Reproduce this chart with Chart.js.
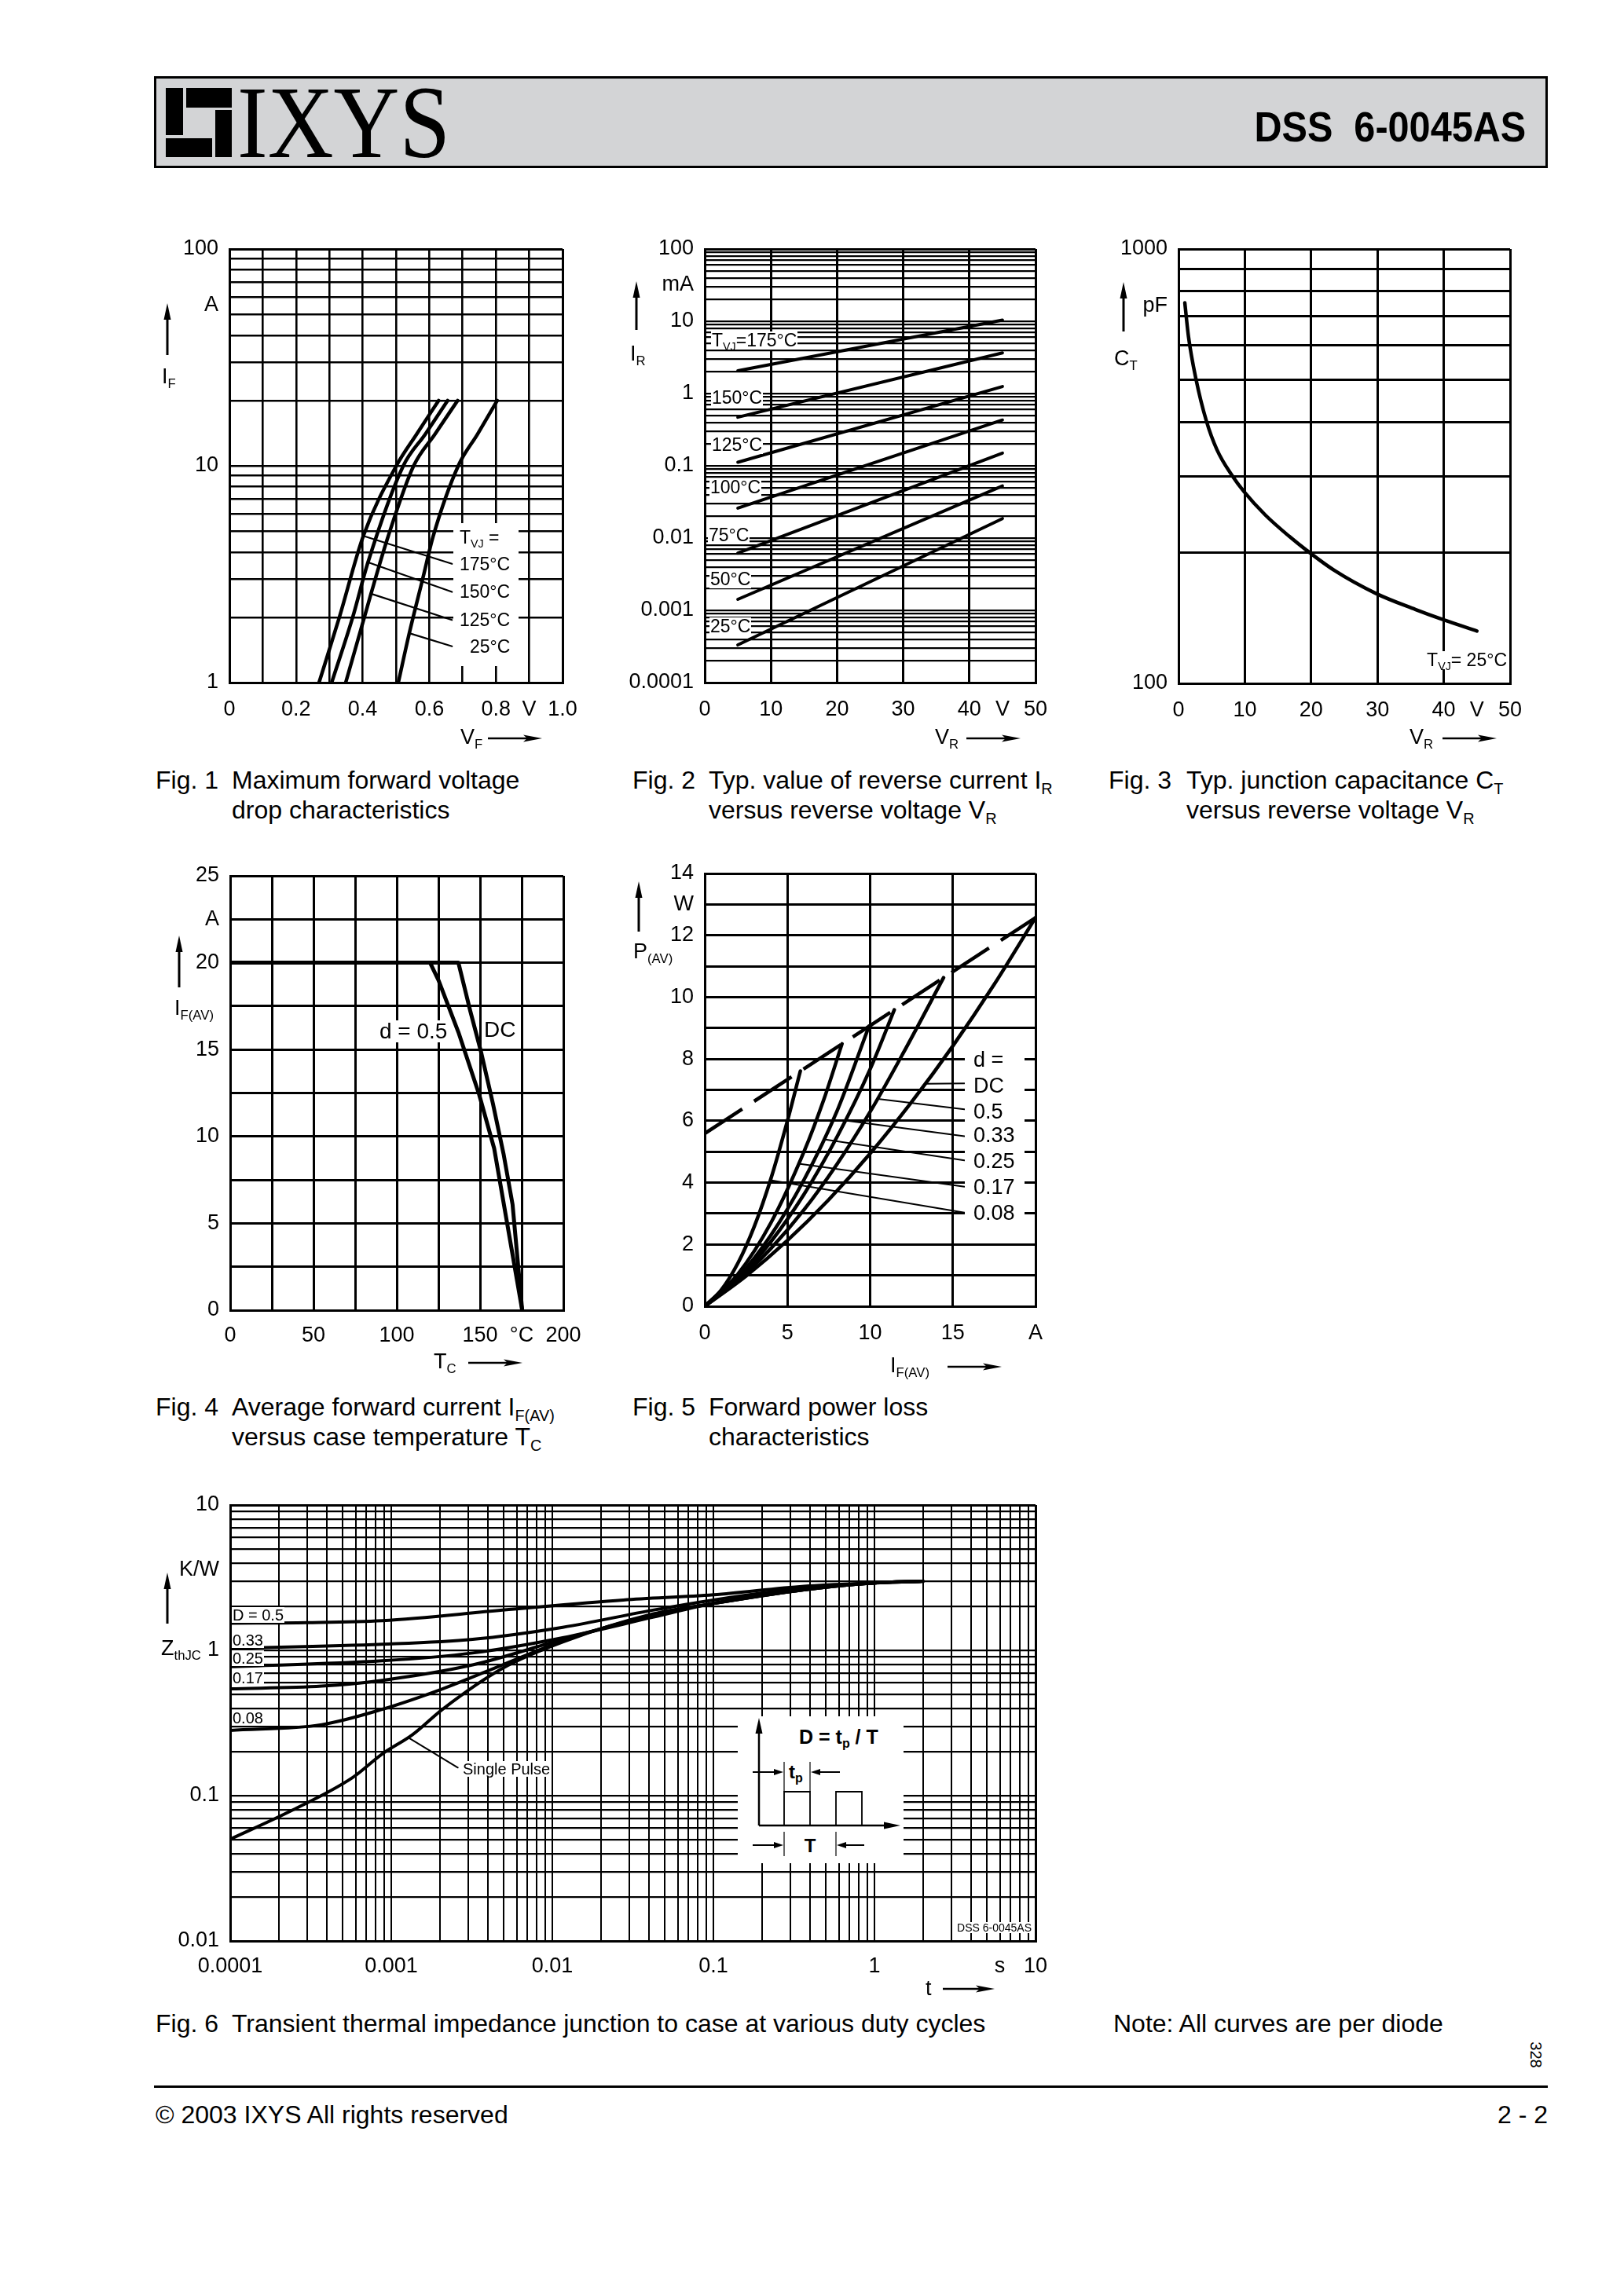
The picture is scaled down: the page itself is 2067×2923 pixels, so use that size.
<!DOCTYPE html>
<html lang="en">
<head>
<meta charset="utf-8">
<title>DSS 6-0045AS characteristic curves</title>
<script src="https://cdn.jsdelivr.net/npm/chart.js@4.4.1/dist/chart.umd.min.js"></script>
<style>
  html, body { margin: 0; padding: 0; background: #fff; }
  body { position: relative; width: 2067px; height: 2923px; overflow: hidden;
         font-family: "Liberation Sans", Arial, Helvetica, sans-serif; color: #000; }
  canvas { position: absolute; }
  .t { position: absolute; white-space: nowrap; line-height: 1; }
  .t sub { font-size: 62%; vertical-align: -0.35em; line-height: 0; }
  .w { background: #fff; padding: 0 1px; }
  .blk { position: absolute; background: #000; }
  .box { position: absolute; background: #fff; }
  svg.dec { position: absolute; overflow: visible; }
  #head { position: absolute; left: 196px; top: 97px; width: 1774px; height: 117px;
          box-sizing: border-box; border: 3px solid #000; background: #d3d4d6; }
  #ixys { left: 302px; top: 90px; font-family: "Liberation Serif", "Times New Roman", serif;
          font-size: 132px; transform: scaleX(0.88); transform-origin: left top; }
  #part { right: 125px; top: 134px; font-size: 54px; font-weight: bold;
          transform: scaleX(0.9); transform-origin: right top; }
  #foot { position: absolute; left: 196px; top: 2655px; width: 1774px; height: 3px; background: #000; }
  #num { left: 1938px; top: 2606px; font-size: 20px; transform: rotate(90deg); transform-origin: center; }
</style>
</head>
<body>
<div id="head"></div>
<div class="blk" style="left:211px;top:112px;width:22px;height:60px"></div>
<div class="blk" style="left:237px;top:112px;width:58px;height:25px"></div>
<div class="blk" style="left:274px;top:140px;width:21px;height:60px"></div>
<div class="blk" style="left:211px;top:176px;width:59px;height:24px"></div>
<div class="t" id="ixys">IXYS</div>
<div class="t" id="part">DSS&nbsp; 6-0045AS</div>
<div id="foot"></div>
<div class="t" id="num">328</div>

<script>
// ---------------- Fig. 1  forward current I_F (A) vs forward voltage V_F (V) ----------------
const f1VF175 = [0.269, 0.330, 0.402, 0.501, 0.562, 0.628];
const f1IF175 = [1, 2, 4.75, 10, 14, 20];
const f1VF150 = [0.307, 0.370, 0.416, 0.522, 0.588, 0.655];
const f1IF150 = [1, 2, 3.59, 10, 14, 20];
const f1VF125 = [0.349, 0.405, 0.425, 0.477, 0.553, 0.617, 0.685];
const f1IF125 = [1, 2, 2.57, 4.75, 10, 14, 20];
const f1VF25 = [0.507, 0.540, 0.580, 0.612, 0.687, 0.745, 0.804];
const f1IF25 = [1, 1.69, 3, 4.75, 10, 14, 20];
const f1LeadVF = [[0.402, 0.668], [0.4155, 0.668], [0.425, 0.668], [0.540, 0.668]];
const f1LeadIF = [[4.75, 3.53], [3.59, 2.62], [2.57, 1.945], [1.69, 1.47]];
const f1XTicks = [0, 0.1, 0.2, 0.3, 0.4, 0.5, 0.6, 0.7, 0.8, 0.9, 1.0];
const f1XText = ['0', '', '0.2', '', '0.4', '', '0.6', '', '0.8', 'V', '1.0'];
const f1YLabels = [1, 10, 100];

// ---------------- Fig. 2  reverse current I_R (mA) vs V_R (V) ----------------
const f2VR = [5, 45];
const f2IR175 = [2.07, 10.4];
const f2IR150 = [0.47, 3.65];
const f2IR125 = [0.112, 1.25];
const f2IR100 = [0.026, 0.43];
const f2IR75 = [0.0062, 0.15];
const f2IR50 = [0.00142, 0.0526];
const f2IR25 = [0.000332, 0.0186];
const f2XTicks = [0, 10, 20, 30, 40, 45, 50];
const f2XText = ['0', '10', '20', '30', '40', 'V', '50'];
const f2YLabels = [0.0001, 0.001, 0.01, 0.1, 1, 10, 100];

// ---------------- Fig. 3  junction capacitance C_T (pF) vs V_R (V) ----------------
const f3VR = [0.95, 1.5, 2.63, 4.2, 5.8, 8.07, 9.9, 13.1, 16.7, 19.4, 23.5, 29.8, 35.7, 40.0, 45.0];
const f3CT = [752, 629, 502, 402, 345, 301, 276, 244, 218, 202, 182, 161, 148, 140, 132];
const f3YLabels = [100, 1000];

// ---------------- Fig. 4  I_F(AV) (A) vs case temperature T_C (°C) ----------------
const f4Tc05 = [0, 120, 125, 137, 149.5, 158.5, 175.3];
const f4If05 = [20, 20, 19, 16, 12.4, 9.3, 0];
const f4TcDC = [0, 137, 144.2, 150.5, 157.7, 164.1, 169.5, 175.3];
const f4IfDC = [20, 20, 17.2, 14.9, 11.9, 9.0, 6.1, 0];
const f4XTicks = [0, 25, 50, 75, 100, 125, 150, 175, 200];
const f4XText = ['0', '', '50', '', '100', '', '150', '°C', '200'];
const f4YTicks = [0, 2.5, 5, 7.5, 10, 12.5, 15, 17.5, 20, 22.5, 25];
const f4YText = ['0', '', '5', '', '10', '', '15', '', '20', 'A', '25'];

// ---------------- Fig. 5  power loss P_(AV) (W) vs I_F(AV) (A) ----------------
const f5I_DC = [0, 2.5, 5, 7.5, 10, 12.5, 15, 17.5, 20];
const f5P_DC = [0, 0.98, 2.13, 3.45, 4.94, 6.60, 8.42, 10.41, 12.57];
const f5I_05 = [0, 2, 4, 6, 8, 10, 12, 14.44];
const f5P_05 = [0, 0.83, 1.87, 3.12, 4.60, 6.29, 8.19, 10.63];
const f5I_033 = [0, 2, 4, 6, 8, 10, 11.46];
const f5P_033 = [0, 0.88, 2.09, 3.62, 5.48, 7.67, 9.59];
const f5I_025 = [0, 2, 4, 6, 8, 9.93];
const f5P_025 = [0, 0.93, 2.30, 4.09, 6.32, 9.06];
const f5I_017 = [0, 2, 4, 6, 7.2, 8.3];
const f5P_017 = [0, 1.04, 2.70, 5.0, 6.69, 8.49];
const f5I_008 = [0, 1, 2, 3, 4, 5, 5.78];
const f5P_008 = [0, 0.53, 1.39, 2.59, 4.13, 6.0, 7.61];
const f5LimI = [0, 20];
const f5LimP = [5.59, 12.57];
const f5LeadI = [[13.36, 15.7], [10.47, 15.7], [8.6, 15.7], [7.22, 15.7], [5.69, 15.7], [3.97, 15.7]];
const f5LeadP = [[7.2, 7.21], [6.71, 6.37], [6.0, 5.50], [5.4, 4.72], [4.61, 3.87], [4.08, 3.03]];
const f5XTicks = [0, 5, 10, 15, 20];
const f5XText = ['0', '5', '10', '15', 'A'];
const f5YTicks = [0, 1, 2, 3, 4, 5, 6, 7, 8, 9, 10, 11, 12, 13, 14];
const f5YText = ['0', '', '2', '', '4', '', '6', '', '8', '', '10', '', '12', 'W', '14'];

// ---------------- Fig. 6  Z_thJC (K/W) vs pulse time t (s) ----------------
const f6T05 = [1e-4, 3e-4, 8.8e-4, 4.9e-3, 0.0276, 0.1, 0.364, 1, 2];
const f6Z05 = [1.537, 1.55, 1.60, 1.89, 2.22, 2.41, 2.76, 2.91, 2.99];
const f6T033 = [1e-4, 8.8e-4, 3.2e-3, 0.0116, 0.042, 0.1, 0.364, 1, 2];
const f6Z033 = [1.029, 1.10, 1.19, 1.44, 1.89, 2.22, 2.68, 2.91, 2.99];
const f6T025 = [1e-4, 8.8e-4, 3.2e-3, 0.0116, 0.042, 0.1, 0.364, 1, 2];
const f6Z025 = [0.772, 0.847, 0.959, 1.22, 1.69, 2.11, 2.64, 2.91, 2.99];
const f6T017 = [1e-4, 3.7e-4, 8.8e-4, 3.2e-3, 0.0116, 0.042, 0.1, 0.364, 1, 2];
const f6Z017 = [0.543, 0.567, 0.622, 0.794, 1.19, 1.74, 2.10, 2.61, 2.91, 2.99];
const f6T008 = [1e-4, 3.7e-4, 8.8e-4, 2.08e-3, 4.9e-3, 0.0116, 0.042, 0.1, 0.364, 1, 2];
const f6Z008 = [0.281, 0.308, 0.393, 0.543, 0.794, 1.16, 1.76, 2.10, 2.61, 2.91, 2.99];
const f6TSP = [1e-4, 2.43e-4, 5.74e-4, 8.8e-4, 1.35e-3, 2.08e-3, 4.9e-3, 0.0116, 0.042, 0.1, 0.364, 1, 2];
const f6ZSP = [0.0501, 0.0794, 0.133, 0.194, 0.262, 0.393, 0.751, 1.14, 1.78, 2.10, 2.61, 2.91, 2.99];
const f6LeadT = [0.0013, 0.00259];
const f6LeadZ = [0.248, 0.156];
const f6XLabels = [0.0001, 0.001, 0.01, 0.1, 1, 10];
const f6YLabels = [0.01, 0.1, 1, 10];

// ---------------- layout helpers ----------------
Chart.defaults.font.family = '"Liberation Sans", Arial, Helvetica, sans-serif';
Chart.defaults.font.size = 27;
Chart.defaults.color = '#000';

const AXW = 130, AXH = 70, PADT = 30, PADR = 50;

function linSpec(ticks, text, hide, lw) {
  return { type: 'linear', min: ticks[0], max: ticks[ticks.length - 1], ticks, text, hide: hide || [], lw };
}

// log axis: grid at 1..9 per decade, labels on the listed values, optional unit text
function logSpec(lo, hi, labelled, unitVal, unitText, lw) {
  let ticks = [];
  for (let e = lo; e < hi; e++) {
    for (let m = 1; m < 10; m++) ticks.push(+(m * Math.pow(10, e)).toPrecision(3));
  }
  ticks.push(+Math.pow(10, hi).toPrecision(3));
  const hide = [];
  if (unitVal !== undefined && !ticks.includes(unitVal)) {
    ticks.push(unitVal);
    hide.push(unitVal);
  }
  ticks.sort((a, b) => a - b);
  const text = ticks.map(v => v === unitVal ? unitText : (labelled.includes(v) ? String(v) : ''));
  return { type: 'logarithmic', min: ticks[0], max: ticks[ticks.length - 1], ticks, text, hide, lw };
}

function scaleCfg(s, horiz, pad) {
  return {
    type: s.type, min: s.min, max: s.max,
    afterBuildTicks: sc => { sc.ticks = s.ticks.map(v => ({ value: v })); },
    afterFit: sc => {
      if (horiz) { sc.height = AXH; sc.paddingLeft = 0; sc.paddingRight = 0; }
      else { sc.width = AXW; sc.paddingTop = 0; sc.paddingBottom = 0; }
    },
    ticks: {
      autoSkip: false, maxRotation: 0, minRotation: 0, padding: pad,
      callback: (v, i) => s.text[i]
    },
    grid: {
      drawTicks: false,
      color: c => s.hide.includes(s.ticks[c.index]) ? 'rgba(0,0,0,0)' : '#000',
      lineWidth: c => (c.index === 0 || c.index === s.ticks.length - 1) ? 3 : s.lw
    },
    border: { display: true, width: 3, color: '#000' }
  };
}

function line(xs, ys, w, extra) {
  return Object.assign({
    data: xs.map((x, i) => ({ x: x, y: ys[i] })),
    borderColor: '#000', borderWidth: w, pointRadius: 0, fill: false,
    cubicInterpolationMode: 'monotone', borderCapStyle: 'round', borderJoinStyle: 'round'
  }, extra || {});
}
const straight = { cubicInterpolationMode: 'default', tension: 0 };

function leaders(xPairs, yPairs, w) {
  return xPairs.map((xp, i) => line(xp, yPairs[i], w, straight));
}

function makeChart(rect, xs, ys, datasets, xPad, yPad) {
  const L = rect[0], T = rect[1], R = rect[2], B = rect[3];
  const cv = document.createElement('canvas');
  cv.width = R - L + AXW + PADR;
  cv.height = B - T + PADT + AXH;
  cv.style.left = (L - AXW) + 'px';
  cv.style.top = (T - PADT) + 'px';
  document.body.appendChild(cv);
  return new Chart(cv.getContext('2d'), {
    type: 'line',
    data: { datasets },
    options: {
      responsive: false, animation: false, devicePixelRatio: 1,
      layout: { padding: { left: 0, top: PADT, right: PADR, bottom: 0 } },
      plugins: { legend: { display: false }, tooltip: { enabled: false } },
      scales: { x: scaleCfg(xs, true, xPad), y: scaleCfg(ys, false, yPad) }
    }
  });
}

// ---------------- the six charts ----------------
makeChart([292, 317, 716, 869],
  linSpec(f1XTicks, f1XText, [], 2.6),
  logSpec(0, 2, f1YLabels, 55, 'A', 2.6),
  [line(f1VF175, f1IF175, 4.5), line(f1VF150, f1IF150, 4.5),
   line(f1VF125, f1IF125, 4.5), line(f1VF25, f1IF25, 4.5)]
    .concat(leaders(f1LeadVF, f1LeadIF, 2.2)), 18, 14);

makeChart([897, 317, 1318, 869],
  linSpec(f2XTicks, f2XText, [45], 3),
  logSpec(-4, 2, f2YLabels, 32, 'mA', 2.2),
  [f2IR175, f2IR150, f2IR125, f2IR100, f2IR75, f2IR50, f2IR25].map(ir => line(f2VR, ir, 4, straight)),
  18, 14);

makeChart([1500, 317, 1922, 870],
  linSpec(f2XTicks, f2XText, [45], 3),
  logSpec(2, 3, f3YLabels, 738, 'pF', 3),
  [line(f3VR, f3CT, 4.5)], 18, 14);

makeChart([293, 1115, 717, 1668],
  linSpec(f4XTicks, f4XText, [], 3),
  linSpec(f4YTicks, f4YText, [], 3),
  [line(f4Tc05, f4If05, 5, straight), line(f4TcDC, f4IfDC, 5, straight)], 16, 14);

makeChart([897, 1112, 1318, 1663],
  linSpec(f5XTicks, f5XText, [], 3),
  linSpec(f5YTicks, f5YText, [], 3),
  [line(f5I_DC, f5P_DC, 4.5), line(f5I_05, f5P_05, 4.5), line(f5I_033, f5P_033, 4.5),
   line(f5I_025, f5P_025, 4.5), line(f5I_017, f5P_017, 4.5), line(f5I_008, f5P_008, 4.5),
   line(f5LimI, f5LimP, 4.5, Object.assign({ borderDash: [57, 18], borderCapStyle: 'butt' }, straight))]
    .concat(leaders(f5LeadI, f5LeadP, 2)), 18, 14);

makeChart([293, 1916, 1318, 2471],
  logSpec(-4, 1, f6XLabels, 6, 's', 2),
  logSpec(-2, 1, f6YLabels, 3.6, 'K/W', 2.2),
  [line(f6T05, f6Z05, 4), line(f6T033, f6Z033, 4), line(f6T025, f6Z025, 4),
   line(f6T017, f6Z017, 4), line(f6T008, f6Z008, 4), line(f6TSP, f6ZSP, 4),
   line(f6LeadT, f6LeadZ, 2, straight)], 16, 14);

// ---------------- white label backgrounds inside plots ----------------
const boxes = [
  [577, 666, 83, 182],     // fig 1 temperature labels
  [1228, 1336, 76, 222]    // fig 5 duty cycle labels
];
boxes.forEach(b => {
  const d = document.createElement('div');
  d.className = 'box';
  d.style.cssText = `left:${b[0]}px;top:${b[1]}px;width:${b[2]}px;height:${b[3]}px`;
  document.body.appendChild(d);
});

// ---------------- texts: [html, x, centre y, size, align, class] ----------------
const CAP = 32;
const texts = [
  ['Fig. 1', 198, 993, CAP], ['Maximum forward voltage', 295, 993, CAP], ['drop characteristics', 295, 1031, CAP],
  ['Fig. 2', 805, 993, CAP], ['Typ. value of reverse current I<sub>R</sub>', 902, 993, CAP],
  ['versus reverse voltage V<sub>R</sub>', 902, 1031, CAP],
  ['Fig. 3', 1411, 993, CAP], ['Typ. junction capacitance C<sub>T</sub>', 1510, 993, CAP],
  ['versus reverse voltage V<sub>R</sub>', 1510, 1031, CAP],
  ['Fig. 4', 198, 1791, CAP], ['Average forward current I<sub>F(AV)</sub>', 295, 1791, CAP],
  ['versus case temperature T<sub>C</sub>', 295, 1829, CAP],
  ['Fig. 5', 805, 1791, CAP], ['Forward power loss', 902, 1791, CAP], ['characteristics', 902, 1829, CAP],
  ['Fig. 6', 198, 2576, CAP], ['Transient thermal impedance junction to case at various duty cycles', 295, 2576, CAP],
  ['Note: All curves are per diode', 1417, 2576, CAP],
  ['© 2003 IXYS All rights reserved', 198, 2692, CAP], ['2 - 2', 1970, 2692, CAP, 'r'],

  ['I<sub>F</sub>', 206, 479, 27], ['V<sub>F</sub>', 586, 938, 27],
  ['I<sub>R</sub>', 802, 450, 27], ['V<sub>R</sub>', 1190, 938, 27],
  ['C<sub>T</sub>', 1418, 456, 27], ['V<sub>R</sub>', 1794, 938, 27],
  ['I<sub>F(AV)</sub>', 222, 1283, 27], ['T<sub>C</sub>', 552, 1733, 27],
  ['P<sub>(AV)</sub>', 806, 1211, 27], ['I<sub>F(AV)</sub>', 1133, 1738, 27],
  ['Z<sub>thJC</sub>', 205, 2098, 27], ['t', 1178, 2531, 27],

  ['T<sub>VJ</sub> =', 585, 684, 23], ['175°C', 585, 718, 23], ['150°C', 585, 753, 23],
  ['125°C', 585, 789, 23], ['25°C', 598, 823, 23],

  ['T<sub>VJ</sub>=175°C', 905, 433, 23, 'l', 'w'], ['150°C', 905, 506, 23, 'l', 'w'],
  ['125°C', 905, 566, 23, 'l', 'w'], ['100°C', 903, 620, 23, 'l', 'w'],
  ['75°C', 901, 681, 23, 'l', 'w'], ['50°C', 903, 737, 23, 'l', 'w'], ['25°C', 903, 797, 23, 'l', 'w'],

  ['T<sub>VJ</sub>= 25°C', 1919, 840, 23, 'r', 'w'],

  ['d = 0.5', 482, 1313, 28, 'l', 'w'], ['DC', 615, 1311, 28, 'l', 'w'],

  ['d =', 1239, 1349, 27], ['DC', 1239, 1382, 27], ['0.5', 1239, 1415, 27], ['0.33', 1239, 1445, 27],
  ['0.25', 1239, 1478, 27], ['0.17', 1239, 1511, 27], ['0.08', 1239, 1544, 27],

  ['D = 0.5', 295, 2056, 20, 'l', 'w'], ['0.33', 295, 2088, 20, 'l', 'w'], ['0.25', 295, 2111, 20, 'l', 'w'],
  ['0.17', 295, 2136, 20, 'l', 'w'], ['0.08', 295, 2187, 20, 'l', 'w'],
  ['Single Pulse', 588, 2252, 20, 'l', 'w'], ['DSS 6-0045AS', 1314, 2454, 14, 'r', 'w']
];
texts.forEach(([h, x, cy, f, al, cls]) => {
  const d = document.createElement('div');
  d.className = 't ' + (cls || '');
  d.innerHTML = h;
  d.style.fontSize = f + 'px';
  d.style.top = (cy - f / 2) + 'px';
  if (al === 'r') d.style.right = (2067 - x) + 'px';
  else d.style.left = x + 'px';
  document.body.appendChild(d);
});

// ---------------- axis arrows ----------------
const upArrows = [[213, 386, 452], [810, 358, 420], [1430, 359, 422], [228, 1191, 1257], [813, 1122, 1186], [213, 2002, 2067]];
const rightArrows = [[621, 690, 940], [1230, 1299, 940], [1836, 1905, 940], [596, 665, 1735], [1206, 1275, 1740], [1200, 1266, 2532]];
let svg = '';
upArrows.forEach(([x, y0, y1]) => {
  const h = y1 - y0;
  svg += `<svg class="dec" style="left:${x - 7}px;top:${y0}px" width="14" height="${h}">` +
    `<line x1="7" y1="14" x2="7" y2="${h}" stroke="#000" stroke-width="3"/>` +
    `<polygon points="7,0 2.5,21 11.5,21" fill="#000"/></svg>`;
});
rightArrows.forEach(([x0, x1, y]) => {
  const w = x1 - x0;
  svg += `<svg class="dec" style="left:${x0}px;top:${y - 7}px" width="${w}" height="14">` +
    `<line x1="0" y1="7" x2="${w - 12}" y2="7" stroke="#000" stroke-width="2.5"/>` +
    `<polygon points="${w},7 ${w - 24},2.5 ${w - 19},7 ${w - 24},11.5" fill="#000"/></svg>`;
});
// pulse sketch inside fig. 6
svg += `<svg class="dec" style="left:939px;top:2185px;background:#fff" width="211" height="187">
  <g stroke="#000" fill="none">
    <line x1="27" y1="18" x2="27" y2="139" stroke-width="2.5"/>
    <line x1="27" y1="139" x2="188" y2="139" stroke-width="2.5"/>
    <polyline points="59,139 59,96 92,96 92,139" stroke-width="1.8"/>
    <polyline points="125,139 125,96 158,96 158,139" stroke-width="1.8"/>
    <line x1="59" y1="58" x2="59" y2="96" stroke-width="1.2"/>
    <line x1="92" y1="58" x2="92" y2="96" stroke-width="1.2"/>
    <line x1="59" y1="147" x2="59" y2="178" stroke-width="1.2"/>
    <line x1="125" y1="147" x2="125" y2="178" stroke-width="1.2"/>
    <line x1="19" y1="71" x2="50" y2="71" stroke-width="2"/>
    <line x1="130" y1="71" x2="101" y2="71" stroke-width="2"/>
    <line x1="19" y1="164" x2="50" y2="164" stroke-width="2"/>
    <line x1="161" y1="164" x2="134" y2="164" stroke-width="2"/>
  </g>
  <g fill="#000">
    <polygon points="27,2 22.5,22 31.5,22"/>
    <polygon points="207,139 186,134.5 186,143.5"/>
    <polygon points="58,71 46,67 46,75"/>
    <polygon points="93,71 105,67 105,75"/>
    <polygon points="58,164 46,160 46,168"/>
    <polygon points="126,164 138,160 138,168"/>
  </g>
  <g font-family="Liberation Sans, Arial, sans-serif" font-weight="bold" fill="#000">
    <text x="78" y="35" font-size="25">D = t<tspan font-size="16" dy="5">p</tspan><tspan dy="-5"> / T</tspan></text>
    <text x="65" y="79" font-size="24">t<tspan font-size="16" dy="5">p</tspan></text>
    <text x="92" y="173" font-size="24" text-anchor="middle">T</text>
  </g>
</svg>`;
document.body.insertAdjacentHTML('beforeend', svg);
</script>
</body>
</html>
